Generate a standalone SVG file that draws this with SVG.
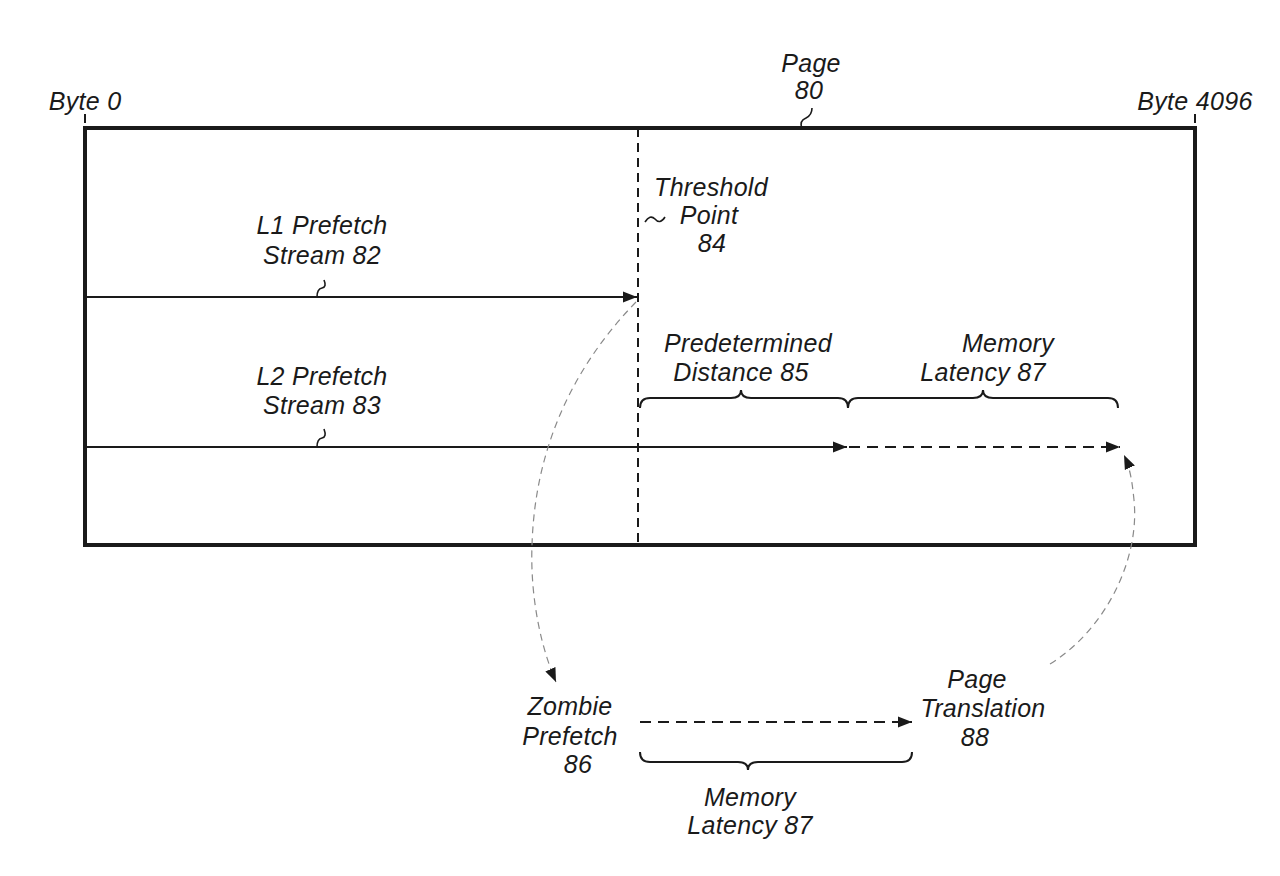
<svg xmlns="http://www.w3.org/2000/svg" width="1280" height="876" viewBox="0 0 1280 876">
<style>
text{font-family:"Liberation Sans",Arial,sans-serif;font-style:italic;font-size:25px;fill:#1a1a1a;text-anchor:middle;letter-spacing:0.3px}
.box{fill:none;stroke:#1a1a1a;stroke-width:4}
.ln{fill:none;stroke:#1a1a1a;stroke-width:2}
.dash{fill:none;stroke:#1a1a1a;stroke-width:2;stroke-dasharray:11 7}
.tick{fill:none;stroke:#1a1a1a;stroke-width:2;stroke-dasharray:9 6}
.arc{fill:none;stroke:#8a8a8a;stroke-width:1.2;stroke-dasharray:7 5}
.sq{fill:none;stroke:#1a1a1a;stroke-width:1.6}
</style>
<defs>
<marker id="ah" markerUnits="userSpaceOnUse" markerWidth="16" markerHeight="12" refX="14" refY="5.5" orient="auto" viewBox="0 0 16 11">
<path d="M0,0 L14,5.5 L0,11 z" fill="#1a1a1a"/>
</marker>
</defs>
<g id="page80">
<rect class="box" x="85" y="128" width="1110" height="417"/>
<path class="tick" d="M85,114 V128"/>
<path class="tick" d="M1195,114 V128"/>
<text x="85" y="110">Byte 0</text>
<text x="1195" y="110">Byte 4096</text>
<text x="811" y="72">Page</text>
<text x="809" y="99">80</text>
<path class="sq" d="M812,108 Q812,115 806,118 Q799,121 802,128"/>
</g>
<g id="threshold84">
<path class="tick" d="M638,128 V545" stroke-width="2.5"/>
<text x="711" y="196">Threshold</text>
<text x="709" y="224">Point</text>
<text x="712" y="252">84</text>
<path class="sq" d="M645,222 Q650,214 655,219 Q660,225 665,217"/>
</g>
<g id="l1stream82">
<text x="322" y="234">L1 Prefetch</text>
<text x="322" y="264">Stream 82</text>
<path class="sq" d="M317,297 Q317,289 322,288 Q327,287 324,280"/>
</g>
<g id="l2stream83">
<text x="322" y="385">L2 Prefetch</text>
<text x="322" y="414">Stream 83</text>
<path class="sq" d="M317,447 Q317,439 322,438 Q327,437 324,429"/>
</g>
<g id="distance85">
<text x="748" y="352">Predetermined</text>
<text x="741" y="381">Distance 85</text>
<path class="ln" d="M640,408 Q640,398 650,398 L731,398 Q741,398 741,390 Q741,398 751,398 L838,398 Q848,398 848,408"/>
</g>
<g id="latency87top">
<text x="1008" y="352">Memory</text>
<text x="983" y="381">Latency 87</text>
<path class="ln" d="M848,408 Q848,398 858,398 L973,398 Q983,398 983,390 Q983,398 993,398 L1108,398 Q1118,398 1118,408"/>
</g>
<g id="zombie86">
<text x="570" y="715">Zombie</text>
<text x="570" y="745">Prefetch</text>
<text x="578" y="773">86</text>
</g>
<g id="translation88">
<text x="977" y="688">Page</text>
<text x="983" y="717">Translation</text>
<text x="975" y="746">88</text>
</g>
<g id="latency87bottom">
<path class="ln" d="M640,752 Q640,762 650,762 L738,762 Q748,762 748,770 Q748,762 758,762 L902,762 Q912,762 912,752"/>
<text x="750" y="806">Memory</text>
<text x="750" y="834">Latency 87</text>
</g>
<g id="connectors">
<path class="ln" d="M85,297 H637" marker-end="url(#ah)"/>
<path class="ln" d="M85,447 H847" marker-end="url(#ah)"/>
<path class="dash" d="M849,447 H1120" marker-end="url(#ah)"/>
<path class="dash" d="M640,722 H912" marker-end="url(#ah)"/>
<path class="arc" d="M636,302 C575,365 535,445 532,545 C530,600 542,650 556,682" marker-end="url(#ah)"/>
<path class="arc" d="M1050,664 C1105,630 1140,560 1134,500 C1132,480 1130,468 1124,455" marker-end="url(#ah)"/>
</g>
</svg>
